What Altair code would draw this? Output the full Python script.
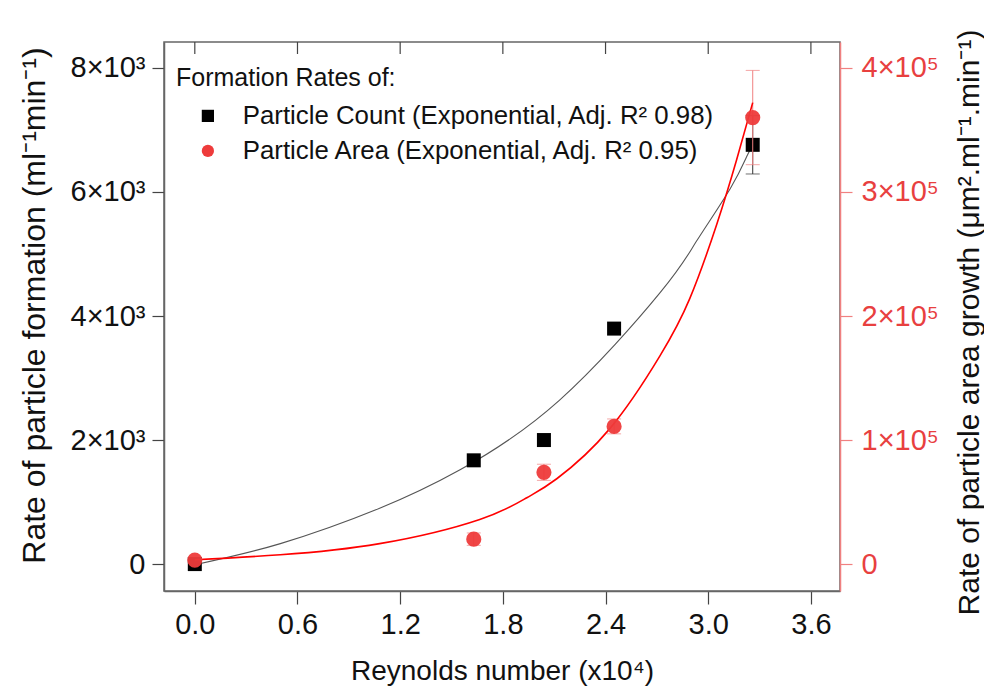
import altair as alt
import pandas as pd

# ---- data ----
reynolds = [0.0, 1.63, 2.04, 2.45, 3.26]
count_rate = [0, 1673, 2000, 3797, 6760]
count_err = [0, 0, 0, 0, 470]
area_rate = [3200, 20100, 74000, 111000, 360000]
area_err = [0, 5000, 6500, 6000, 38000]

count_fit_x = [0.0, 0.5, 1.08, 1.55, 2.13, 2.72, 2.93, 3.13, 3.23, 3.26]
count_fit_y = [-10, 330, 900, 1520, 2640, 4380, 5200, 6060, 6600, 6720]
area_fit_x = [0.0, 0.5, 1.08, 1.665, 1.94, 2.115, 2.424, 2.717, 2.892, 3.05, 3.166, 3.26]
area_fit_y = [3460, 7500, 16500, 36000, 53500, 68800, 109000, 167600, 214000, 274000, 326000, 372000]

x_ticks = [0.0, 0.6, 1.2, 1.8, 2.4, 3.0, 3.6]
left_ticks = [0, 2000, 4000, 6000, 8000]
right_ticks = [0, 100000, 200000, 300000, 400000]

lab_count = "Particle Count (Exponential, Adj. R² 0.98)"
lab_area = "Particle Area (Exponential, Adj. R² 0.95)"

FONT = "Liberation Sans"
RED = "#ee3b3b"

count_df = pd.DataFrame({"x": reynolds, "y": count_rate, "lo": [v - e for v, e in zip(count_rate, count_err)],
                         "hi": [v + e for v, e in zip(count_rate, count_err)], "series": lab_count,
                         "err": count_err})
area_df = pd.DataFrame({"x": reynolds, "y": area_rate, "lo": [v - e for v, e in zip(area_rate, area_err)],
                        "hi": [v + e for v, e in zip(area_rate, area_err)], "series": lab_area,
                        "err": area_err})
count_fit = pd.DataFrame({"x": count_fit_x, "y": count_fit_y})
area_fit = pd.DataFrame({"x": area_fit_x, "y": area_fit_y})
top_ticks_df = pd.DataFrame({"x": x_ticks})

xscale = alt.Scale(domain=[-0.18, 3.77], nice=False, zero=False)
lscale = alt.Scale(domain=[-434, 8418], nice=False, zero=False)
rscale = alt.Scale(domain=[-21700, 420900], nice=False, zero=False)

xaxis = alt.Axis(values=x_ticks, format=".1f", title="Reynolds number (x10⁴)", grid=False,
                 domainColor="#666", domainWidth=1.5, tickColor="#444", tickSize=13, tickWidth=1.2,
                 labelFont=FONT, labelFontSize=29, labelColor="#111", labelPadding=6,
                 titleFont=FONT, titleFontSize=28, titleFontWeight="normal", titleColor="#111",
                 titleY=88, titleBaseline="alphabetic")
laxis = alt.Axis(values=left_ticks, grid=False, orient="left",
                 labelExpr="datum.value == 0 ? '0' : format(datum.value/1000, 'd') + '×10³'",
                 title="Rate of particle formation (ml⁻¹min⁻¹)",
                 domainColor="#666", domainWidth=1.5, tickColor="#444", tickSize=12, tickWidth=1.2,
                 labelFont=FONT, labelFontSize=29, labelColor="#111", labelPadding=7,
                 titleFont=FONT, titleFontSize=32, titleFontWeight="normal", titleColor="#111",
                 titleX=-120, titleY=263, titleBaseline="alphabetic")
raxis = alt.Axis(values=right_ticks, grid=False, orient="right",
                 labelExpr="datum.value == 0 ? '0' : format(datum.value/100000, 'd') + '×10⁵'",
                 title="Rate of particle area growth (μm².ml⁻¹.min⁻¹)",
                 domainColor="#f08080", domainWidth=1.5, tickColor="#f08080", tickSize=12, tickWidth=1.2,
                 labelFont=FONT, labelFontSize=29, labelColor="#e8403f", labelPadding=9,
                 titleFont=FONT, titleFontSize=30, titleFontWeight="normal", titleColor="#111",
                 titleAngle=270, titleX=138, titleY=280, titleBaseline="alphabetic")

color_scale = alt.Scale(domain=[lab_count, lab_area], range=["#000000", RED])
shape_scale = alt.Scale(domain=[lab_count, lab_area], range=["square", "circle"])
legend = alt.Legend(orient="none", legendX=12, legendY=24, padding=0,
                    title="Formation Rates of:", titleFont=FONT, titleFontSize=25,
                    titleFontWeight="normal", titleColor="#111", titlePadding=12, titleLimit=600,
                    labelFont=FONT, labelFontSize=25.8, labelColor="#111", labelLimit=700,
                    symbolOffset=19, labelOffset=22, rowPadding=8, symbolSize=150,
                    symbolStrokeWidth=0, symbolOpacity=1)

base_x = alt.X("x:Q", scale=xscale, axis=xaxis)

# left layer (count)
count_line = alt.Chart(count_fit).mark_line(color="#555", strokeWidth=1.1, interpolate="natural").encode(
    x=base_x, y=alt.Y("y:Q", scale=lscale, axis=laxis))
count_err_rule = alt.Chart(count_df).transform_filter("datum.err > 0").mark_rule(color="#333", strokeWidth=1).encode(
    x=alt.X("x:Q", scale=xscale), y=alt.Y("lo:Q", scale=lscale), y2="hi:Q")
count_caps = alt.Chart(count_df).transform_filter("datum.err > 0").transform_fold(["lo", "hi"], as_=["k", "v"]).mark_tick(
    color="#333", thickness=1, size=14, orient="horizontal").encode(
    x=alt.X("x:Q", scale=xscale), y=alt.Y("v:Q", scale=lscale))
count_pts = alt.Chart(count_df).mark_point(filled=True, size=196, opacity=1).encode(
    x=alt.X("x:Q", scale=xscale), y=alt.Y("y:Q", scale=lscale),
    color=alt.Color("series:N", scale=color_scale, legend=legend),
    shape=alt.Shape("series:N", scale=shape_scale, legend=legend))
top_ticks = alt.Chart(top_ticks_df).mark_rule(color="#444", strokeWidth=1.2).encode(
    x=alt.X("x:Q", scale=xscale), y=alt.value(0), y2=alt.value(12))

left = alt.layer(count_line, count_err_rule, count_caps, top_ticks, count_pts)

# right layer (area)
area_err_rule = alt.Chart(area_df).transform_filter("datum.err > 0").mark_rule(color="#f08080", strokeWidth=1).encode(
    x=alt.X("x:Q", scale=xscale), y=alt.Y("lo:Q", scale=rscale, axis=raxis), y2="hi:Q")
area_caps = alt.Chart(area_df).transform_filter("datum.err > 0").transform_fold(["lo", "hi"], as_=["k", "v"]).mark_tick(
    color="#f08080", thickness=1, size=14, orient="horizontal").encode(
    x=alt.X("x:Q", scale=xscale), y=alt.Y("v:Q", scale=rscale))
area_line = alt.Chart(area_fit).mark_line(color="#ff0000", strokeWidth=1.6, interpolate="natural").encode(
    x=alt.X("x:Q", scale=xscale), y=alt.Y("y:Q", scale=rscale))
area_pts = alt.Chart(area_df).mark_point(filled=True, size=230, opacity=0.95).encode(
    x=alt.X("x:Q", scale=xscale), y=alt.Y("y:Q", scale=rscale),
    color=alt.Color("series:N", scale=color_scale, legend=legend),
    shape=alt.Shape("series:N", scale=shape_scale, legend=legend))

right = alt.layer(area_err_rule, area_caps, area_line, area_pts)

chart = alt.layer(left, right).resolve_scale(y="independent").properties(
    width=676, height=549,
    autosize=alt.AutoSizeParams(type="none"),
    padding={"left": 156, "top": 34, "right": 144, "bottom": 96},
    background="white",
).configure_view(stroke="#666", strokeWidth=1.5)

chart.save("out.html", embed_options={"renderer": "svg", "actions": False})
